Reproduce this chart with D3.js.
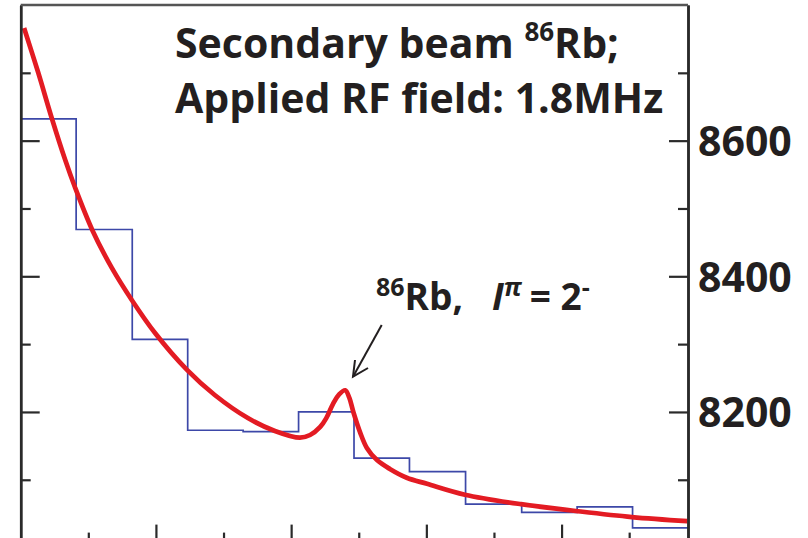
<!DOCTYPE html>
<html>
<head>
<meta charset="utf-8">
<script src="https://cdn.jsdelivr.net/npm/d3@7"></script>
<style>
  body { margin: 0; background: #fff; }
  svg { display: block; }
  .lbl { font-family: "Open Sans", Lato, sans-serif; font-weight: bold; fill: #231f20; }
</style>
</head>
<body>
<svg id="chart" width="808" height="538"></svg>
<script>
// histogram bins (left edges + final right edge), in tick units
const binEdges = [0, 0.82, 1.65, 2.47, 3.29, 4.11, 4.93, 5.75, 6.58, 7.41, 8.23, 9.05, 9.87];
const binCounts = [8632, 8469, 8307, 8173, 8171, 8200, 8132, 8112, 8064, 8052, 8060, 8029];

// fitted curve
const fitX = [0.05, 0.26, 0.46, 0.66, 0.80, 1.06, 1.35, 1.65, 1.99, 2.46, 2.87, 3.36, 3.76, 4.13, 4.28,
              4.43, 4.52, 4.62, 4.71, 4.80, 4.86, 4.92, 5.02, 5.12, 5.27, 5.46, 5.71, 6.01, 6.57, 7.40,
              8.21, 9.04, 9.86];
const fitY = [8766, 8700, 8633, 8571, 8532, 8468, 8412, 8364, 8316, 8262, 8225, 8191, 8172, 8162, 8166,
              8178, 8191, 8212, 8226, 8232, 8221, 8200, 8170, 8147, 8129, 8116, 8103, 8094, 8078, 8064,
              8054, 8045, 8039];

const yMajor = [8200, 8400, 8600];
const yMinor = [8100, 8300, 8500, 8700];
const xMajor = [2, 4, 6, 8];
const xMinor = [1, 3, 5, 7, 9];

const svg = d3.select("#chart");
const mLeft = 20.7, mRight = 688, mTop = 5, mBottom = 547.6;

const x = d3.scaleLinear().domain([0, 9.87]).range([mLeft, mRight]);
const y = d3.scaleLinear().domain([8000, 8800]).range([mBottom, mTop]);

const axisColor = "#2a2a2a";

// histogram
const stepPts = binCounts.map((c, i) => [binEdges[i], c]);
stepPts.push([binEdges[binEdges.length - 1], binCounts[binCounts.length - 1]]);
svg.append("path")
  .attr("d", d3.line().x(d => x(d[0])).y(d => y(d[1])).curve(d3.curveStepAfter)(stepPts))
  .attr("fill", "none")
  .attr("stroke", "#3d48a8")
  .attr("stroke-width", 1.7);

// fitted curve
svg.append("path")
  .attr("d", d3.line().x((d, i) => x(fitX[i])).y(d => y(d)).curve(d3.curveCatmullRom.alpha(0.5))(fitY))
  .attr("fill", "none")
  .attr("stroke", "#e31b23")
  .attr("stroke-width", 4.7)
  .attr("stroke-linejoin", "round");

// axes
const styleAxis = g => {
  g.select(".domain").attr("stroke", axisColor).attr("stroke-width", 2.5);
  g.selectAll(".tick line").attr("stroke", axisColor).attr("stroke-width", 2.2);
};

svg.append("g").attr("transform", `translate(${mLeft},0)`)
  .call(d3.axisLeft(y).tickValues(yMajor).tickSizeInner(-19).tickSizeOuter(0).tickFormat(""))
  .call(styleAxis);
svg.append("g").attr("transform", `translate(${mLeft},0)`)
  .call(d3.axisLeft(y).tickValues(yMinor).tickSizeInner(-10).tickSizeOuter(0).tickFormat(""))
  .call(styleAxis);

const rightAxis = svg.append("g").attr("transform", `translate(${mRight},0)`)
  .call(d3.axisRight(y).tickValues(yMajor).tickSizeInner(-19).tickSizeOuter(0).tickPadding(10)
    .tickFormat(d3.format("d")))
  .call(styleAxis);
rightAxis.attr("font-family", null).attr("font-size", null);
rightAxis.selectAll(".tick text")
  .attr("class", "lbl")
  .attr("font-size", 41)
  .attr("fill", null)
  .attr("dy", "0.36em");
svg.append("g").attr("transform", `translate(${mRight},0)`)
  .call(d3.axisRight(y).tickValues(yMinor).tickSizeInner(-10).tickSizeOuter(0).tickFormat(""))
  .call(styleAxis);

svg.append("g").attr("transform", `translate(0,${mBottom})`)
  .call(d3.axisBottom(x).tickValues(xMajor).tickSizeInner(-23).tickSizeOuter(0).tickFormat(""))
  .call(styleAxis);
svg.append("g").attr("transform", `translate(0,${mBottom})`)
  .call(d3.axisBottom(x).tickValues(xMinor).tickSizeInner(-15).tickSizeOuter(0).tickFormat(""))
  .call(styleAxis);

// top frame
svg.append("line")
  .attr("x1", mLeft).attr("x2", mRight).attr("y1", mTop).attr("y2", mTop)
  .attr("stroke", "#555").attr("stroke-width", 2.5);

// title
const t1 = svg.append("text").attr("class", "lbl").attr("x", 175).attr("y", 58).attr("font-size", 41);
t1.append("tspan").text("Secondary beam ");
t1.append("tspan").attr("font-size", 26).attr("dy", -17).text("86");
t1.append("tspan").attr("dy", 17).text("Rb;");

svg.append("text").attr("class", "lbl").attr("x", 175).attr("y", 113).attr("font-size", 41)
  .text("Applied RF field: 1.8MHz");

// annotation
const a = svg.append("text").attr("class", "lbl").attr("x", 376).attr("y", 310).attr("font-size", 37);
a.append("tspan").attr("font-size", 25).attr("dy", -14).text("86");
a.append("tspan").attr("dy", 14).text("Rb,");
a.append("tspan").attr("x", 492).attr("font-style", "italic").text("I");
a.append("tspan").attr("font-size", 25).attr("dy", -14).attr("font-style", "italic").text("π");
a.append("tspan").attr("dy", 14).attr("dx", 8).text("= 2");
a.append("tspan").attr("font-size", 25).attr("dy", -14).text("-");

// arrow
const arrow = [[381.7, 325], [353, 376.7]];
svg.append("line")
  .attr("x1", arrow[0][0]).attr("y1", arrow[0][1])
  .attr("x2", arrow[1][0]).attr("y2", arrow[1][1])
  .attr("stroke", "#231f20").attr("stroke-width", 2);
svg.append("path")
  .attr("d", `M355,360 L${arrow[1][0]},${arrow[1][1]} L368,368`)
  .attr("fill", "none").attr("stroke", "#231f20").attr("stroke-width", 2);
</script>
</body>
</html>
